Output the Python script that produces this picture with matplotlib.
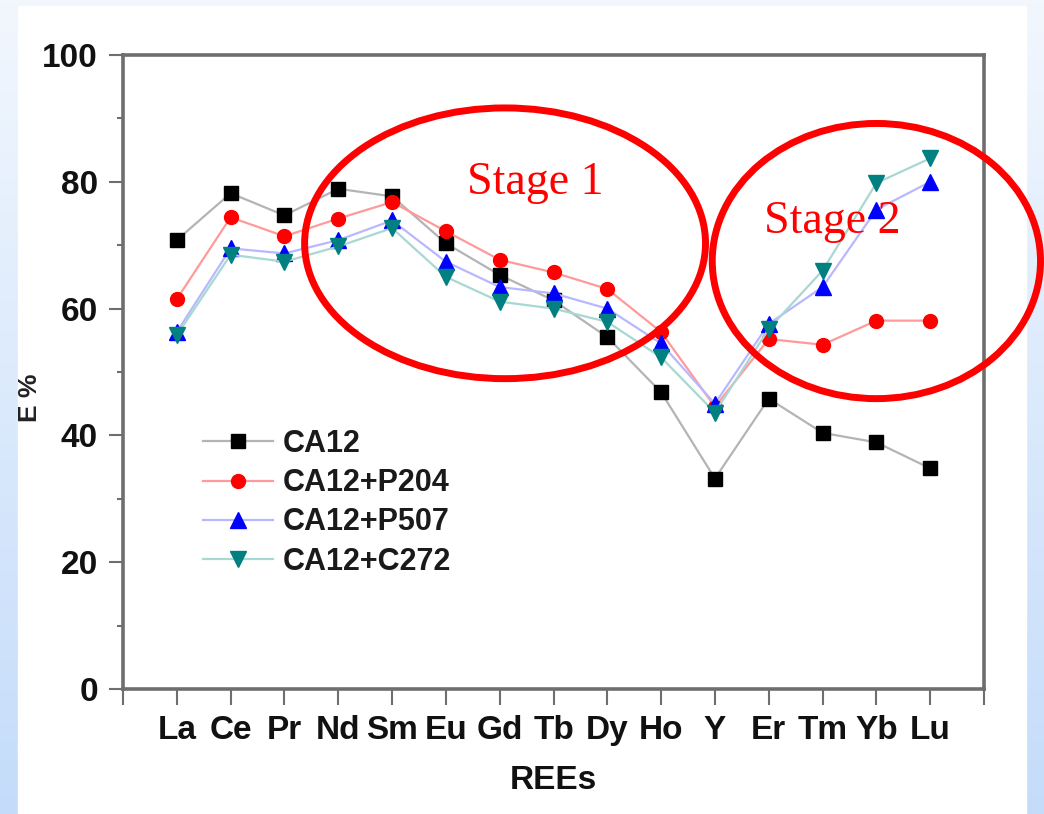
import numpy as np
import matplotlib
matplotlib.use("Agg")
import matplotlib.pyplot as plt
from matplotlib.patches import Ellipse, Rectangle

categories = ["La", "Ce", "Pr", "Nd", "Sm", "Eu", "Gd", "Tb", "Dy", "Ho", "Y", "Er", "Tm", "Yb", "Lu"]
ca12 = [70.8, 78.2, 74.7, 78.9, 77.7, 70.3, 65.3, 61.3, 55.5, 46.8, 33.2, 45.8, 40.4, 38.9, 34.8]
ca12_p204 = [61.5, 74.4, 71.4, 74.2, 76.8, 72.2, 67.7, 65.7, 63.1, 56.3, 44.5, 55.2, 54.3, 58.1, 58.1]
ca12_p507 = [56.3, 69.5, 68.7, 70.8, 73.9, 67.4, 63.4, 62.4, 60.0, 54.5, 45.0, 57.6, 63.4, 75.6, 80.0]
ca12_c272 = [55.8, 68.5, 67.4, 69.8, 72.7, 65.0, 61.1, 60.0, 57.9, 52.3, 43.6, 56.8, 66.0, 79.8, 83.7]
series_labels = ["CA12", "CA12+P204", "CA12+P507", "CA12+C272"]
y_ticks = [0, 20, 40, 60, 80, 100]

W, H = 1044, 814
fig = plt.figure(figsize=(W / 100, H / 100), dpi=100)

# background gradient + white panel
bg = fig.add_axes([0, 0, 1, 1], zorder=-10)
top = np.array([0xf2, 0xf7, 0xfe]) / 255
bot = np.array([0xc4, 0xdc, 0xfa]) / 255
t = np.linspace(0, 1, 256)[:, None]
grad = top[None, :] * (1 - t) + bot[None, :] * t
bg.imshow(grad[:, None, :], extent=[0, 1, 0, 1], aspect="auto", origin="upper")
bg.add_patch(Rectangle((18 / W, 0), (1026 - 18) / W, (H - 6) / H, color="white", zorder=2))
bg.set_xlim(0, 1)
bg.set_ylim(0, 1)
bg.axis("off")

ax = fig.add_axes([123 / W, 1 - 689 / H, (984 - 123) / W, (689 - 55) / H])
ax.set_facecolor("white")

x = np.arange(1, len(categories) + 1)
styles = [
    dict(color="#b4b4b4", marker="s", mfc="black", mec="black", ms=10),
    dict(color="#ff9a9a", marker="o", mfc="#ff0000", mec="#ff0000", ms=10),
    dict(color="#b8b8ff", marker="^", mfc="#0000ff", mec="#0000ff", ms=11),
    dict(color="#a8d8d2", marker="v", mfc="#008080", mec="#008080", ms=11),
]
for vals, lab, st in zip([ca12, ca12_p204, ca12_p507, ca12_c272], series_labels, styles):
    ax.plot(x, vals, lw=1.6, label=lab, **st)

ax.set_xlim(0, len(categories) + 1)
ax.set_ylim(0, 100)
ax.set_xticks(np.arange(0, len(categories) + 2))
ax.set_xticklabels([""] + categories + [""])
ax.set_yticks(y_ticks)
ax.set_yticks(np.arange(10, 100, 20), minor=True)

spine_col = "#6e6e6e"
for s in ax.spines.values():
    s.set_color(spine_col)
    s.set_linewidth(2.6)

font = "Liberation Sans"
ax.tick_params(axis="x", which="major", direction="out", length=11.5, width=1.5,
               color=spine_col, pad=7, labelsize=24)
ax.tick_params(axis="y", which="major", direction="out", length=10, width=1.5,
               color=spine_col, pad=8, labelsize=24)
ax.tick_params(axis="y", which="minor", direction="out", length=4.5, width=1.5, color=spine_col)
for lbl in ax.get_xticklabels() + ax.get_yticklabels():
    lbl.set_fontfamily(font)
    lbl.set_fontweight("bold")
    lbl.set_color("#111111")

ax.set_xlabel("REEs", fontsize=24, fontweight="bold", family=font, labelpad=14, color="#111111")
fig.text(30 / W, 1 - 398 / H, "E %", rotation=90, fontsize=19, fontweight="bold",
         family=font, ha="center", va="center", color="#222222")

leg = ax.legend(loc="upper left", bbox_to_anchor=(0.093, 0.41), frameon=False,
                prop=dict(family=font, weight="bold", size=22), handlelength=2.3,
                handletextpad=0.3, labelspacing=0.3, borderpad=0, borderaxespad=0)
for txt in leg.get_texts():
    txt.set_color("#1a1a1a")

# annotation ellipses and labels
e1 = Ellipse((7.1, 70.3), 7.45, 42.7, fill=False, ec="#ff0000", lw=5, clip_on=False, zorder=5)
e2 = Ellipse((14.0, 67.5), 6.1, 43.4, fill=False, ec="#ff0000", lw=5, clip_on=False, zorder=5)
ax.add_patch(e1)
ax.add_patch(e2)
ax.text(7.66, 78.1, "Stage 1", color="#ff0000", fontsize=33, family="Liberation Serif",
        ha="center", va="baseline", zorder=6)
ax.text(13.18, 72.0, "Stage 2", color="#ff0000", fontsize=33, family="Liberation Serif",
        ha="center", va="baseline", zorder=6)

fig.savefig("out.png", dpi=100)
